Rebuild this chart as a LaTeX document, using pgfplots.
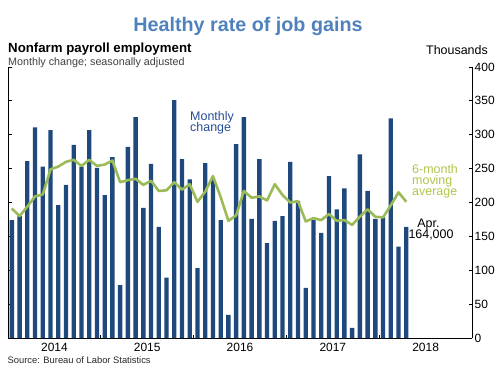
\documentclass[border=0pt]{standalone}
\usepackage{pgfplots}
\pgfplotsset{compat=1.18}
\usepackage{pgfplotstable}
\usepackage{fontspec}
\setmainfont{Liberation Sans}
\definecolor{barblue}{RGB}{31,73,125}
\definecolor{magreen}{RGB}{155,187,89}
\definecolor{matext}{RGB}{178,196,72}
\definecolor{titleblue}{RGB}{79,129,189}
\definecolor{mctext}{RGB}{38,76,150}
\definecolor{subgray}{RGB}{64,64,64}

\pgfplotstableread{
i bar ma
0 174 191
1 180 180
2 261 194
3 311 209
4 253 212
5 307 249
6 196 253
7 226 260
8 285 263
9 253 254
10 307 263
11 251 254
12 211 256
13 267 262
14 78 230
15 282 233
16 326 235
17 192 226
18 257 232
19 164 217
20 89 218
21 351 230
22 264 219
23 234 227
24 103 201
25 258 216
26 235 239
27 174 208
28 34 173
29 286 181
30 326 217
31 176 207
32 264 209
33 140 203
34 173 227
35 180 211
36 260 200
37 202 202
38 74 172
39 174 177
40 155 174
41 239 183
42 190 173
43 221 174
44 15 167
45 271 179
46 217 190
47 176 179
48 178 178
49 324 196
50 135 215
51 164 201
}\datatable

\begin{document}
\begin{tikzpicture}[x=1bp,y=1bp]
\path[use as bounding box] (0,0) rectangle (500,365);
\begin{axis}[
  at={(8bp,27bp)}, anchor=south west,
  scale only axis, width=464bp, height=271bp,
  xmin=-0.5, xmax=59.5, ymin=0, ymax=400,
  axis x line*=bottom, axis y line*=box,
  x axis line style={-}, y axis line style={-},
  axis line style={line width=0.8bp, black},
  xtick={11.5,23.5,35.5,47.5},
  xticklabels={},
  extra x ticks={5.5,17.5,29.5,41.5,53.5},
  extra x tick labels={2014,2015,2016,2017,2018},
  extra x tick style={major tick length=0pt},
  ytick={0,50,...,400},
  ytick pos=both,
  yticklabel pos=right,
  tick align=inside,
  major tick length=3.5bp,
  tick style={line width=0.8bp, black},
  /pgf/number format/assume math mode=true,
  yticklabel style={font=\fontsize{12}{12}\selectfont, anchor=west, inner sep=0pt, xshift=2.5bp},
  xticklabel style={font=\fontsize{12}{12}\selectfont, anchor=north, inner sep=0pt, yshift=-5bp},
]
\addplot[ybar, bar width=0.56, bar shift=0pt, fill=barblue, draw=none] table[x=i,y=bar]{\datatable};
\addplot[magreen, line width=2.6bp, no marks, line join=round] table[x=i,y=ma]{\datatable};
\end{axis}
\node[anchor=base, inner sep=0pt, text=titleblue, font=\fontsize{19.8}{20}\selectfont\bfseries] at (248,334) {Healthy rate of job gains};
\node[anchor=base west, inner sep=0pt, font=\fontsize{13.3}{14}\selectfont\bfseries] at (8,312.5) {Nonfarm payroll employment};
\node[anchor=base west, inner sep=0pt, text=subgray, font=\fontsize{10.8}{11}\selectfont] at (8,300) {Monthly change; seasonally adjusted};
\node[anchor=base east, inner sep=0pt, font=\fontsize{12.5}{13}\selectfont] at (488,311) {Thousands};
\node[anchor=base west, inner sep=0pt, text=mctext, font=\fontsize{12.5}{13}\selectfont] at (190,244.3) {Monthly};
\node[anchor=base west, inner sep=0pt, text=mctext, font=\fontsize{12.5}{13}\selectfont] at (190,233.3) {change};
\node[anchor=base west, inner sep=0pt, text=matext, font=\fontsize{12.5}{13}\selectfont] at (412,191.7) {6-month};
\node[anchor=base west, inner sep=0pt, text=matext, font=\fontsize{12.5}{13}\selectfont] at (412,180.7) {moving};
\node[anchor=base west, inner sep=0pt, text=matext, font=\fontsize{12.5}{13}\selectfont] at (412,169.7) {average};
\node[anchor=base, inner sep=0pt, font=\fontsize{12.5}{13}\selectfont] at (428.5,138) {Apr.};
\node[anchor=base, inner sep=0pt, font=\fontsize{12.5}{13}\selectfont] at (431,127) {164,000};
\node[anchor=base west, inner sep=0pt, text=black!85, font=\fontsize{9.4}{10}\selectfont] at (7.5,2) {Source: Bureau of Labor Statistics};
\end{tikzpicture}
\end{document}
